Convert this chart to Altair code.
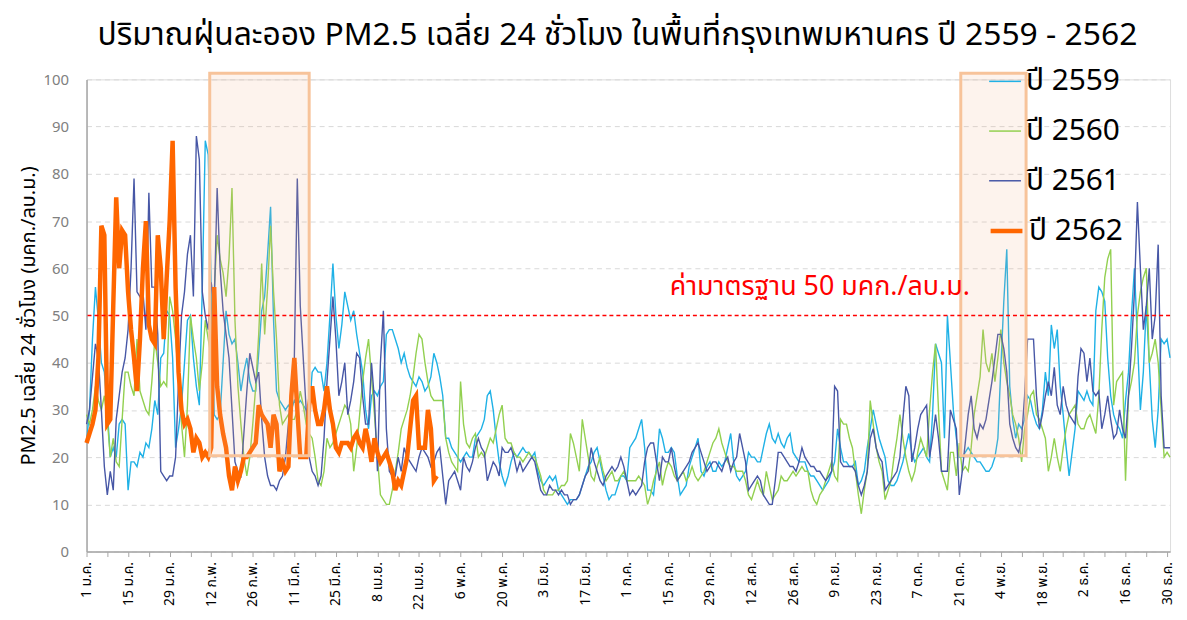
import altair as alt
import pandas as pd

TITLE = "ปริมาณฝุ่นละออง PM2.5 เฉลี่ย 24 ชั่วโมง ในพื้นที่กรุงเทพมหานคร ปี 2559 - 2562"
Y_TITLE = "PM2.5 เฉลี่ย 24 ชั่วโมง (มคก./ลบ.ม.)"
SERIES = ["ปี 2559", "ปี 2560", "ปี 2561", "ปี 2562"]
COLORS = ["#1FB1E6", "#92D050", "#4757A6", "#FF6600"]
THIN_WIDTH = 1.4
THICK_WIDTH = 4.5

X_LABELS = ["1 ม.ค.", "15 ม.ค.", "29 ม.ค.", "12 ก.พ.", "26 ก.พ.", "11 มี.ค.", "25 มี.ค.",
            "8 เม.ย.", "22 เม.ย.", "6 พ.ค.", "20 พ.ค.", "3 มิ.ย.", "17 มิ.ย.", "1 ก.ค.",
            "15 ก.ค.", "29 ก.ค.", "12 ส.ค.", "26 ส.ค.", "9 ก.ย.", "23 ก.ย.", "7 ต.ค.",
            "21 ต.ค.", "4 พ.ย.", "18 พ.ย.", "2 ธ.ค.", "16 ธ.ค.", "30 ธ.ค."]

Y2559 = [23, 30, 45, 56, 49, 40, 38, 30, 20, 22, 20, 27, 28, 27,
         13, 19, 19, 18, 21, 20, 23, 22, 26, 32, 29, 41, 42, 51,
         50, 41, 22, 26, 31, 40, 49, 50, 41, 35, 31, 56, 87, 84,
         56, 29, 28, 29, 40, 51, 46, 44, 45, 40, 34, 38, 41, 36,
         34, 34, 42, 51, 54, 63, 73, 49, 34, 32, 31, 30, 31, 30,
         32, 31, 32, 31, 30, 29, 38, 39, 38, 38, 34, 40, 50, 61,
         50, 43, 48, 55, 52, 49, 51, 46, 42, 38, 30, 26, 33, 34,
         33, 35, 36, 46, 47, 47, 45, 43, 40, 42, 39, 37, 36, 35,
         37, 36, 34, 35, 37, 42, 40, 37, 33, 24, 24, 22, 21, 20,
         19, 20, 21, 20, 20, 24, 25, 26, 28, 33, 34, 30, 24, 19,
         16, 14, 16, 19, 21, 20, 21, 22, 21, 21, 20, 21, 17, 15,
         14, 15, 16, 15, 16, 13, 12, 11, 10, 11, 11, 11, 12, 14,
         16, 18, 19, 21, 22, 19, 16, 13, 11, 12, 12, 14, 16, 16,
         15, 22, 23, 24, 26, 28, 22, 13, 13, 12, 18, 26, 24, 21,
         21, 22, 21, 16, 12, 13, 14, 18, 20, 22, 24, 17, 16, 18,
         19, 17, 17, 19, 18, 19, 22, 25, 19, 16, 15, 16, 17, 21,
         20, 20, 19, 19, 22, 25, 27, 24, 23, 25, 23, 22, 24, 25,
         21, 20, 19, 19, 19, 17, 16, 16, 15, 14, 13, 14, 15, 17,
         19, 26, 22, 19, 19, 18, 18, 19, 14, 15, 17, 22, 26, 30,
         27, 24, 22, 20, 15, 14, 14, 15, 17, 19, 22, 25, 21, 19,
         20, 21, 22, 20, 19, 29, 44, 42, 40, 24, 50, 40, 30, 24,
         20, 20, 21, 22, 21, 20, 19, 19, 18, 17, 17, 18, 20, 24,
         39, 53, 64, 35, 28, 24, 27, 26, 28, 33, 32, 29, 27, 26,
         30, 38, 33, 48, 43, 47, 35, 29, 22, 16, 21, 26, 34, 33,
         32, 34, 32, 31, 51, 56, 55, 53, 41, 33, 29, 27, 26, 24,
         32, 38, 50, 60, 45, 30, 38, 52, 40, 28, 22, 30, 45, 44,
         45, 41]

Y2560 = [29, 27, 30, 35, 32, 30, 33, 28, 20, 24, 19, 18, 28, 38,
         38, 35, 33, 45, 34, 32, 30, 29, 36, 45, 40, 35, 36, 35,
         54, 51, 45, 37, 27, 20, 31, 50, 45, 41, 34, 40, 49, 45,
         41, 55, 67, 62, 59, 54, 62, 77, 49, 35, 27, 20, 16, 20,
         27, 35, 46, 61, 46, 56, 69, 55, 45, 31, 27, 28, 29, 28,
         28, 30, 34, 31, 27, 25, 24, 20, 15, 14, 17, 24, 22, 23,
         25, 27, 29, 31, 30, 27, 17, 22, 29, 36, 41, 45, 37, 29,
         20, 12, 11, 10, 10, 13, 17, 21, 26, 28, 30, 33, 37, 42,
         46, 45, 40, 36, 33, 32, 32, 32, 32, 24, 21, 19, 18, 17,
         36, 27, 23, 22, 24, 25, 20, 21, 20, 22, 24, 23, 26, 29,
         31, 24, 23, 23, 21, 20, 20, 19, 20, 21, 20, 20, 18, 16,
         13, 12, 12, 12, 13, 13, 14, 14, 15, 25, 23, 20, 17, 28,
         24, 20, 16, 15, 18, 20, 17, 15, 16, 17, 15, 15, 16, 17,
         15, 15, 15, 15, 16, 15, 14, 10, 12, 15, 17, 19, 14, 17,
         19, 18, 16, 15, 16, 17, 15, 16, 18, 16, 15, 16, 17, 19,
         21, 23, 24, 26, 23, 21, 19, 18, 18, 17, 17, 17, 15, 12,
         11, 13, 15, 13, 12, 17, 14, 11, 12, 13, 16, 15, 15, 16,
         17, 16, 17, 18, 17, 17, 13, 11, 10, 12, 13, 15, 17, 19,
         16, 15, 28, 27, 27, 24, 22, 17, 12, 8, 13, 17, 32, 27,
         22, 19, 17, 11, 13, 15, 20, 24, 29, 24, 20, 17, 15, 17,
         21, 24, 22, 20, 30, 38, 44, 30, 17, 15, 13, 21, 21, 16,
         23, 17, 18, 17, 22, 29, 33, 37, 47, 40, 38, 42, 36, 41,
         47, 40, 36, 33, 29, 27, 24, 19, 26, 29, 33, 34, 29, 28,
         26, 24, 17, 20, 24, 20, 17, 22, 26, 29, 30, 31, 27, 26,
         26, 28, 29, 27, 25, 33, 47, 58, 62, 64, 31, 36, 37, 38,
         15, 33, 36, 40, 50, 55, 58, 60, 40, 42, 45, 40, 30, 20,
         21, 20]

Y2561 = [27, 30, 37, 44, 41, 30, 18, 12, 17, 13, 28, 33, 38, 41,
         47, 60, 79, 55, 54, 55, 47, 76, 56, 56, 46, 17, 16, 15,
         16, 16, 20, 36, 50, 55, 63, 67, 54, 88, 83, 55, 50, 47,
         57, 52, 77, 60, 51, 46, 41, 30, 19, 17, 16, 25, 34, 42,
         39, 36, 38, 28, 20, 16, 14, 14, 13, 15, 16, 20, 27, 35,
         41, 79, 52, 41, 30, 20, 17, 16, 14, 16, 24, 36, 45, 54,
         45, 33, 36, 40, 29, 32, 36, 42, 41, 33, 27, 27, 40, 32,
         17, 40, 51, 26, 17, 16, 16, 20, 17, 22, 20, 19, 18, 17,
         20, 22, 21, 20, 18, 19, 21, 22, 16, 10, 15, 16, 17, 15,
         13, 20, 18, 17, 19, 22, 24, 22, 21, 15, 17, 19, 18, 16,
         22, 21, 21, 22, 20, 17, 19, 17, 18, 19, 20, 19, 16, 13,
         12, 12, 14, 13, 13, 12, 13, 12, 12, 10, 11, 11, 12, 14,
         16, 17, 22, 19, 17, 15, 14, 16, 17, 18, 17, 18, 20, 18,
         15, 12, 13, 12, 13, 14, 19, 22, 23, 23, 19, 15, 20, 19,
         19, 22, 18, 15, 16, 17, 18, 19, 21, 22, 23, 21, 19, 17,
         18, 19, 19, 18, 17, 19, 20, 17, 19, 20, 25, 22, 19, 13,
         14, 15, 16, 15, 12, 11, 10, 10, 15, 21, 21, 20, 19, 18,
         18, 17, 19, 22, 20, 19, 18, 18, 17, 17, 16, 15, 16, 17,
         35, 34, 19, 18, 18, 18, 18, 17, 14, 12, 14, 17, 24, 26,
         22, 20, 19, 13, 14, 15, 16, 17, 20, 28, 35, 33, 19, 22,
         26, 29, 30, 31, 20, 24, 29, 24, 17, 17, 17, 30, 28, 26,
         12, 17, 23, 29, 33, 26, 24, 27, 26, 28, 32, 36, 41, 46,
         46, 43, 38, 27, 24, 22, 21, 24, 33, 45, 45, 45, 33, 26,
         29, 33, 36, 33, 39, 31, 29, 35, 31, 29, 28, 27, 37, 43,
         42, 36, 41, 34, 33, 34, 26, 29, 33, 28, 24, 25, 30, 26,
         24, 33, 43, 55, 74, 60, 47, 52, 60, 45, 50, 65, 33, 22,
         22, 22]

Y2562 = [23, 25, 27, 30, 41, 69, 67, 27, 28, 52, 75, 60, 68, 67,
         55, 47, 41, 34, 45, 60, 70, 48, 45, 44, 67, 60, 45, 58,
         70, 87, 56, 38, 30, 27, 28, 26, 21, 24, 23, 20, 21, 20,
         22, 56, 35, 29, 25, 22, 16, 13, 18, 15, 17, 20, 20, 21,
         22, 23, 31, 29, 28, 27, 22, 29, 27, 17, 19, 17, 18, 33,
         41, 30, 20, 20, 20, 31, 35, 30, 27, 27, 30, 35, 30, 27,
         22, 21, 23, 23, 23, 22, 24, 25, 23, 22, 26, 23, 19, 24,
         21, 19, 20, 21, 19, 17, 13, 15, 14, 17, 20, 26, 32, 33,
         22, 22, 22, 30, 26, 15, 16]

STANDARD = [50]
STANDARD_LABEL = ["ค่ามาตรฐาน 50 มคก./ลบ.ม."]
STANDARD_LABEL_DAY = [247]
STANDARD_LABEL_VALUE = [56]

BOX_START = [41.5, 294.5]
BOX_END = [75.0, 316.5]
BOX_LOW = [20.3, 20.3]
BOX_HIGH = [101.3, 101.3]

FONT = "Tahoma, Noto Sans Thai, Noto Sans, DejaVu Sans, sans-serif"


def frame(names, arrays):
    rows = []
    for name, vals in zip(names, arrays):
        for i, v in enumerate(vals):
            rows.append({"day": i, "value": v, "series": name})
    return pd.DataFrame(rows)


df_thin = frame(SERIES[:3], [Y2559, Y2560, Y2561])
df_thick = frame(SERIES[3:], [Y2562])

labels_js = "[" + ",".join("'" + s + "'" for s in X_LABELS) + "]"
label_expr = f"datum.value % 14 === 0 ? {labels_js}[datum.value / 14] : ''"

x_scale = alt.Scale(domain=[0, 365], nice=False, zero=False)
y_scale = alt.Scale(domain=[0, 100], nice=False)

x_axis = alt.Axis(values=list(range(0, 365, 7)), labelExpr=label_expr, labelAngle=-90,
                  title=None, grid=False, ticks=True, tickSize=5, tickColor="#A6A6A6",
                  domainColor="#A6A6A6", domainWidth=1.5, labelColor="black",
                  labelFontSize=14, labelPadding=5, labelOverlap=False, labelFont=FONT,
                  labelBound=False, labelFlush=False)
y_axis = alt.Axis(values=list(range(0, 101, 10)), grid=True, gridDash=[5, 4],
                  gridColor="#D9D9D9", gridWidth=1,
                  gridOpacity={"condition": {"test": "datum.value === 50", "value": 0},
                               "value": 1},
                  ticks=False, domainColor="#A6A6A6",
                  domainWidth=1.5, labelColor="#808080", labelFontSize=15, labelPadding=18,
                  labelFont=FONT, title=Y_TITLE, titleFont=FONT, titleFontSize=20,
                  titleFontWeight="normal", titleColor="black", titlePadding=5)

legend_common = dict(orient="none", legendX=907, title=None, symbolType="stroke",
                     symbolSize=1024, labelFontSize=30, labelFont=FONT, labelColor="black",
                     rowPadding=18, labelOffset=4)

lines_thin = alt.Chart(df_thin).mark_line(strokeWidth=THIN_WIDTH).encode(
    x=alt.X("day:Q", scale=x_scale, axis=x_axis),
    y=alt.Y("value:Q", scale=y_scale, axis=y_axis),
    color=alt.Color("series:N", scale=alt.Scale(domain=SERIES[:3], range=COLORS[:3]),
                    legend=alt.Legend(legendY=-15, symbolStrokeWidth=1.5, **legend_common)),
    order=alt.Order("day:Q"),
)

lines_thick = alt.Chart(df_thick).mark_line(strokeWidth=THICK_WIDTH).encode(
    x=alt.X("day:Q", scale=x_scale, axis=x_axis),
    y=alt.Y("value:Q", scale=y_scale, axis=y_axis),
    color=alt.Color("series:N", scale=alt.Scale(domain=SERIES[3:], range=COLORS[3:]),
                    legend=alt.Legend(legendY=134, symbolStrokeWidth=4.5, **legend_common)),
    order=alt.Order("day:Q"),
)

std_df = pd.DataFrame({"value": STANDARD})
rule = alt.Chart(std_df).mark_rule(color="#FF0000", strokeDash=[4, 3],
                                   strokeWidth=1.5, opacity=1).encode(
    y=alt.Y("value:Q", scale=y_scale, axis=y_axis)
)

box_df = pd.DataFrame({"x1": BOX_START, "x2": BOX_END, "y1": BOX_LOW, "y2": BOX_HIGH})
boxes = alt.Chart(box_df).mark_rect(fill="#F4B183", fillOpacity=0.15, stroke="#F7C39A",
                                    strokeWidth=3).encode(
    x=alt.X("x1:Q", scale=x_scale, axis=x_axis),
    x2="x2:Q",
    y=alt.Y("y1:Q", scale=y_scale, axis=y_axis),
    y2="y2:Q",
)

lab_df = pd.DataFrame({"day": STANDARD_LABEL_DAY, "value": STANDARD_LABEL_VALUE,
                       "label": STANDARD_LABEL})
label = alt.Chart(lab_df).mark_text(color="#FF0000", fontSize=27, font=FONT,
                                    align="center", baseline="middle").encode(
    x=alt.X("day:Q", scale=x_scale, axis=x_axis),
    y=alt.Y("value:Q", scale=y_scale, axis=y_axis),
    text="label:N",
)

chart = alt.layer(lines_thin, lines_thick, boxes, rule, label).resolve_scale(
    color="independent"
).properties(
    width=1090, height=475,
    title=alt.TitleParams(TITLE, fontSize=32, font=FONT, fontWeight="normal",
                          color="black", anchor="middle", offset=13, dx=-11),
    autosize=alt.AutoSizeParams(type="none"),
    padding={"left": 79, "top": 70, "right": 9, "bottom": 60},
).configure_view(stroke=None).configure(background="white")

chart.save("out.html", embed_options={"renderer": "svg", "actions": False})
